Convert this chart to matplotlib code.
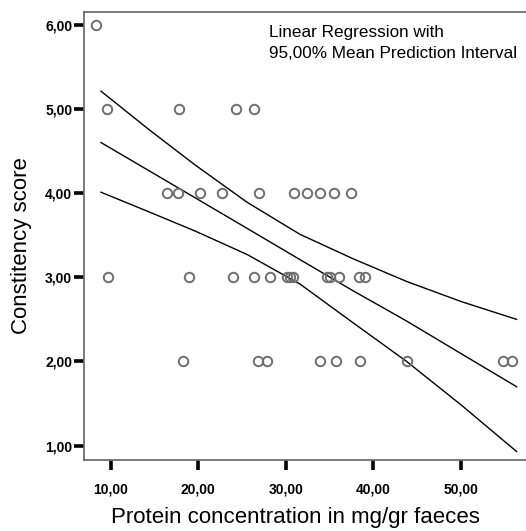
import numpy as np
import matplotlib
matplotlib.use("Agg")
import matplotlib.pyplot as plt

plt.rcParams['font.family'] = ['Liberation Sans', 'DejaVu Sans']

protein = [8.29,
           9.54, 17.84, 24.29, 26.38,
           16.4, 17.73, 20.2, 22.69, 26.98, 30.95, 32.4, 33.92, 35.55, 37.46,
           9.73, 18.95, 24.01, 26.41, 28.21, 30.11, 30.49, 30.87, 34.69, 35.06, 36.13, 38.41, 39.06,
           18.23, 26.8, 27.9, 33.92, 35.71, 38.49, 43.9, 54.8, 55.83]
score = [6,
         5, 5, 5, 5,
         4, 4, 4, 4, 4, 4, 4, 4, 4, 4,
         3, 3, 3, 3, 3, 3, 3, 3, 3, 3, 3, 3, 3,
         2, 2, 2, 2, 2, 2, 2, 2, 2]

# regression line and 95% mean prediction interval
fit_x = [8.89, 14.3, 19.63, 25.6, 31.63, 37.7, 43.83, 50.1, 56.4]
fit_mid = [4.60, 4.27, 3.945, 3.58, 3.21, 2.84, 2.48, 2.09, 1.70]
fit_upper = [5.21, 4.76, 4.335, 3.89, 3.51, 3.22, 2.95, 2.71, 2.50]
fit_lower = [4.01, 3.78, 3.55, 3.27, 2.92, 2.46, 2.00, 1.48, 0.93]

xticks = [10, 20, 30, 40, 50]
yticks = [1, 2, 3, 4, 5, 6]

W, H = 526, 531
fig = plt.figure(figsize=(W / 100, H / 100), dpi=100)
ax = fig.add_axes([84 / W, 1 - 460 / H, 1 - 84 / W, (460 - 12) / H])

for ys in (fit_mid, fit_upper, fit_lower):
    ax.plot(fit_x, ys, color='black', lw=1.0)
ax.plot(protein, score, 'o', mfc='none', mec='#6e6e6e', mew=1.4, ms=6.8, zorder=3)

ax.set_xlim(6.95, 57.47)
ax.set_ylim(0.83, 6.15)
ax.set_xticks(xticks)
ax.set_xticklabels([f"{v:.2f}".replace('.', ',') for v in xticks])
ax.set_yticks(yticks)
ax.set_yticklabels([f"{v:.2f}".replace('.', ',') for v in yticks])
ax.tick_params(direction='out', length=7, width=2.6, color='black',
               labelsize=10)
ax.tick_params(axis='x', pad=9)
ax.tick_params(axis='y', pad=1.5)
for lab in ax.get_xticklabels() + ax.get_yticklabels():
    lab.set_fontweight('bold')

for side in ['left', 'bottom', 'top']:
    ax.spines[side].set_color('#6e6e6e')
    ax.spines[side].set_linewidth(1.3)
ax.spines['right'].set_visible(False)

ax.set_xlabel('Protein concentration in mg/gr faeces', fontsize=16)
ax.xaxis.set_label_coords((295.5 - 84) / 442, -(518 - 460) / 448)
ax.xaxis.label.set_va('center')
ax.set_ylabel('Constitency score', fontsize=16)
ax.yaxis.set_label_coords(-(84 - 22) / 442, (460 - 246) / 448)
ax.yaxis.label.set_va('center')

fig.text(269 / W, 1 - 25 / H, 'Linear Regression with\n95,00% Mean Prediction Interval',
         fontsize=12.3, va='top', ha='left', linespacing=1.5)

fig.savefig('out.png', dpi=100)
